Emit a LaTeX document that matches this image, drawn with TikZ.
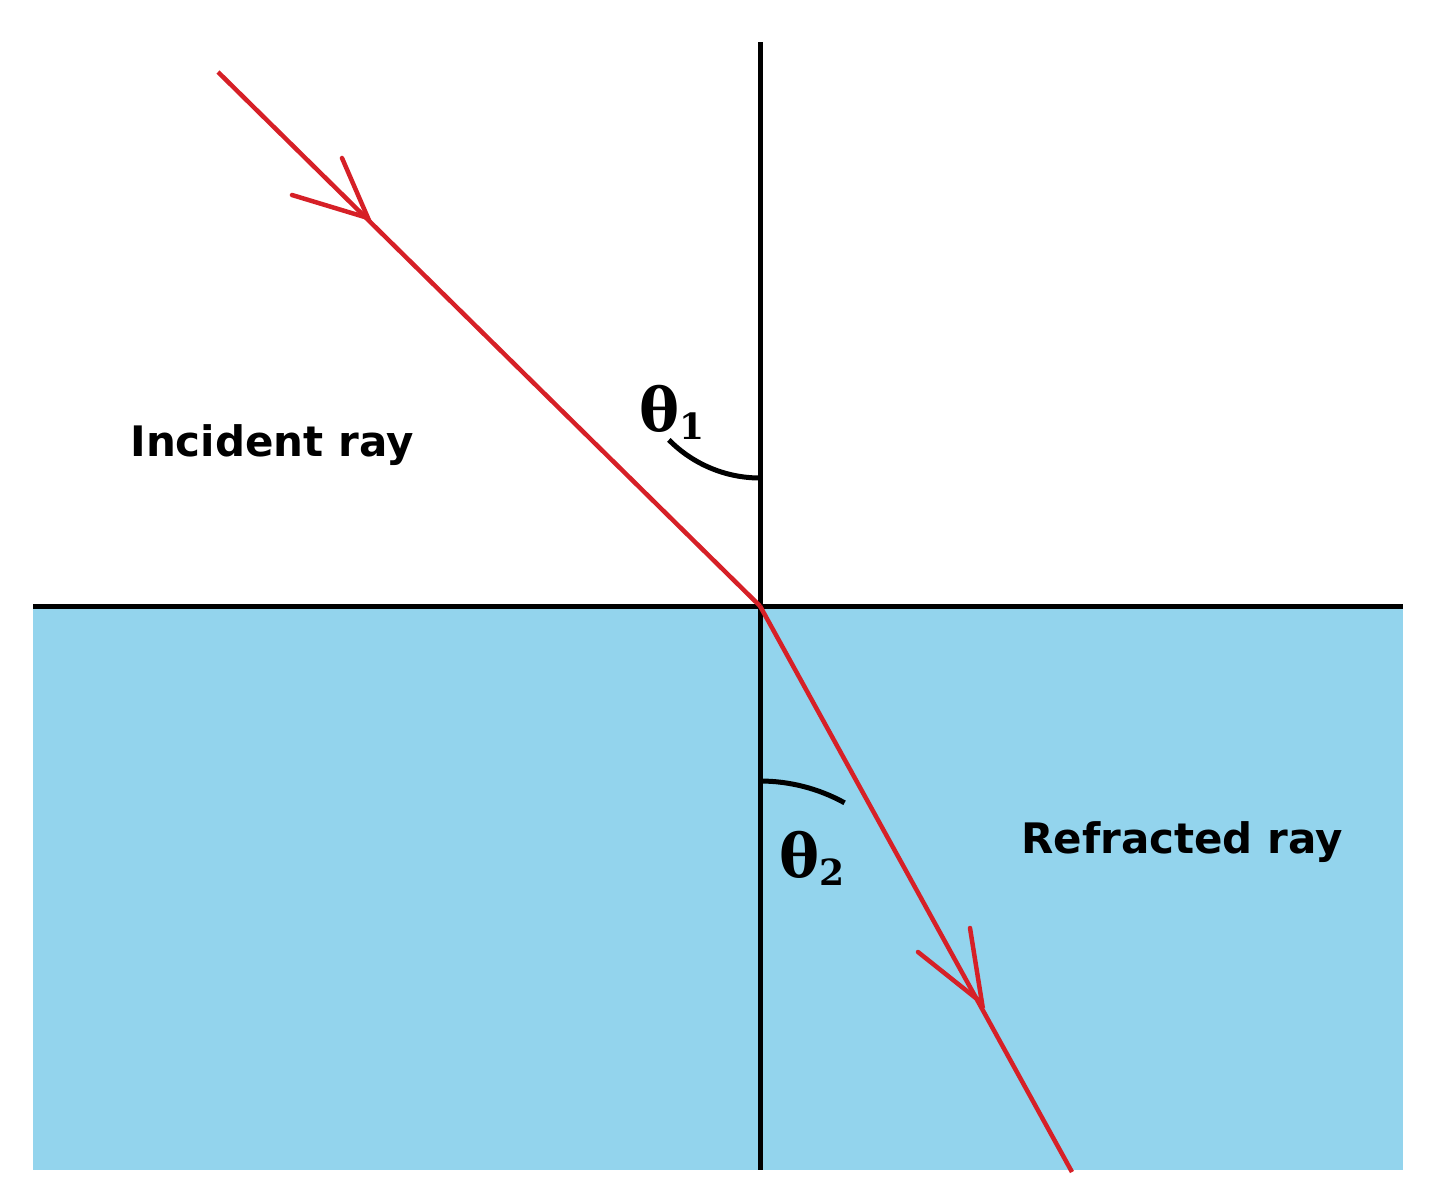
\documentclass[tikz,border=0pt]{standalone}
\usepackage{fontspec}
\setmainfont{DejaVu Sans}
\newfontfamily\thfont{DejaVu Serif}
\definecolor{water}{RGB}{147,212,237}
\definecolor{ray}{RGB}{214,32,39}
\begin{document}
\begin{tikzpicture}[x=1pt,y=-1pt,
  raystyle/.style={ray,line width=4.5pt},
  blk/.style={black,line width=5pt},
  lbl/.style={font=\fontsize{42}{48}\selectfont\bfseries,inner sep=0pt},
  thl/.style={font=\fontsize{60}{66}\selectfont\thfont\bfseries,inner sep=0pt}]
\useasboundingbox (0,0) rectangle (1432,1200);
\fill[water] (33,606) rectangle (1403,1170);
\coordinate (O) at (760,606);
\coordinate (L) at (33,606);
\coordinate (R) at (1403,606);
\coordinate (T) at (760,42);
\coordinate (B) at (760,1170);
\coordinate (S) at (218,72);
\coordinate (E) at (1072,1172);
\draw[blk] (L) -- (R);
\draw[blk] (T) -- (B);
\draw[raystyle] (S) -- (O);
\draw[raystyle] (O) -- (E);
\coordinate (A1) at (368,218);
\draw[raystyle,line cap=round] (292,195) -- (A1) -- (342,158);
\coordinate (A2) at (982,1003);
\draw[raystyle,line cap=round] (918,952) -- (A2) -- (970,928);
\draw[blk] ([shift={(90:-128)}]O) ++(0,0) coordinate (q);
\draw[blk] (760,478) arc[start angle=90,end angle=135.4,radius=128] ;
\draw[blk] (760,781) arc[start angle=-90,end angle=-61.1,radius=175];
\node[lbl] (inc) at (272,445) {Incident ray};
\node[lbl] (ref) at (1182,842) {Refracted ray};
\node[thl] (t1) at (672,412) {θ\raisebox{-0.25ex}{\fontsize{36}{40}\selectfont 1}};
\node[thl] (t2) at (812,858) {θ\raisebox{-0.25ex}{\fontsize{36}{40}\selectfont 2}};
\end{tikzpicture}
\end{document}
